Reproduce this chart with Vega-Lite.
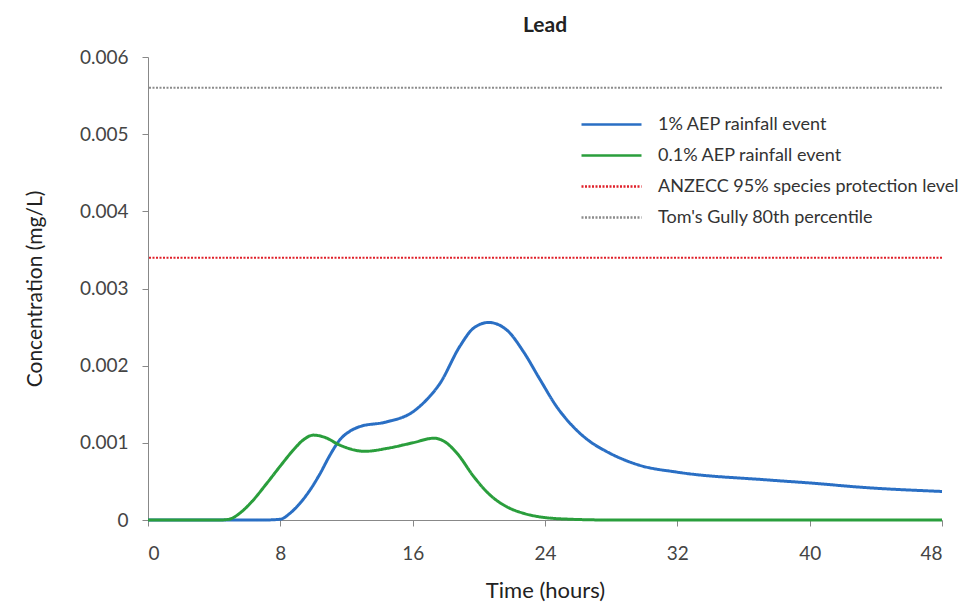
{
  "$schema": "https://vega.github.io/schema/vega-lite/v6.json",
  "autosize": "none",
  "width": 794,
  "height": 463,
  "padding": {"left": 148, "top": 57, "right": 18, "bottom": 87},
  "background": "white",
  "config": {"font": "Lato", "view": {"stroke": null}},
  "title": {"text": "Lead", "fontSize": 21, "fontWeight": "bold", "color": "#222", "offset": 12, "anchor": "middle"},
  "datasets": {
    "curves": [
      {"t": 0, "v": 0, "s": "1% AEP rainfall event"},
      {"t": 7, "v": 0, "s": "1% AEP rainfall event"},
      {"t": 8, "v": 0.00001, "s": "1% AEP rainfall event"},
      {"t": 8.6, "v": 0.00009, "s": "1% AEP rainfall event"},
      {"t": 9.2, "v": 0.00022, "s": "1% AEP rainfall event"},
      {"t": 9.8, "v": 0.00039, "s": "1% AEP rainfall event"},
      {"t": 10.4, "v": 0.0006, "s": "1% AEP rainfall event"},
      {"t": 11, "v": 0.00084, "s": "1% AEP rainfall event"},
      {"t": 11.6, "v": 0.00104, "s": "1% AEP rainfall event"},
      {"t": 12.2, "v": 0.00115, "s": "1% AEP rainfall event"},
      {"t": 12.8, "v": 0.00121, "s": "1% AEP rainfall event"},
      {"t": 14.4, "v": 0.00127, "s": "1% AEP rainfall event"},
      {"t": 16, "v": 0.0014, "s": "1% AEP rainfall event"},
      {"t": 16.85, "v": 0.00156, "s": "1% AEP rainfall event"},
      {"t": 17.65, "v": 0.00177, "s": "1% AEP rainfall event"},
      {"t": 18.85, "v": 0.00225, "s": "1% AEP rainfall event"},
      {"t": 19.7, "v": 0.00249, "s": "1% AEP rainfall event"},
      {"t": 20.6, "v": 0.00256, "s": "1% AEP rainfall event"},
      {"t": 21.7, "v": 0.00246, "s": "1% AEP rainfall event"},
      {"t": 22.7, "v": 0.00218, "s": "1% AEP rainfall event"},
      {"t": 23.7, "v": 0.00182, "s": "1% AEP rainfall event"},
      {"t": 24.7, "v": 0.00147, "s": "1% AEP rainfall event"},
      {"t": 25.7, "v": 0.00121, "s": "1% AEP rainfall event"},
      {"t": 26.7, "v": 0.00102, "s": "1% AEP rainfall event"},
      {"t": 27.7, "v": 0.00089, "s": "1% AEP rainfall event"},
      {"t": 29.7, "v": 0.00071, "s": "1% AEP rainfall event"},
      {"t": 32, "v": 0.00062, "s": "1% AEP rainfall event"},
      {"t": 37.4, "v": 0.00052, "s": "1% AEP rainfall event"},
      {"t": 40, "v": 0.00048, "s": "1% AEP rainfall event"},
      {"t": 43.4, "v": 0.00042, "s": "1% AEP rainfall event"},
      {"t": 48, "v": 0.00037, "s": "1% AEP rainfall event"},
      {"t": 0, "v": 0, "s": "0.1% AEP rainfall event"},
      {"t": 4.3, "v": 0, "s": "0.1% AEP rainfall event"},
      {"t": 4.9, "v": 0.00001, "s": "0.1% AEP rainfall event"},
      {"t": 5.5, "v": 0.00008, "s": "0.1% AEP rainfall event"},
      {"t": 6.2, "v": 0.00022, "s": "0.1% AEP rainfall event"},
      {"t": 7.2, "v": 0.00048, "s": "0.1% AEP rainfall event"},
      {"t": 8, "v": 0.0007, "s": "0.1% AEP rainfall event"},
      {"t": 8.8, "v": 0.00091, "s": "0.1% AEP rainfall event"},
      {"t": 9.4, "v": 0.00104, "s": "0.1% AEP rainfall event"},
      {"t": 10, "v": 0.0011, "s": "0.1% AEP rainfall event"},
      {"t": 10.7, "v": 0.00107, "s": "0.1% AEP rainfall event"},
      {"t": 11.6, "v": 0.00097, "s": "0.1% AEP rainfall event"},
      {"t": 13.1, "v": 0.00089, "s": "0.1% AEP rainfall event"},
      {"t": 14.5, "v": 0.00093, "s": "0.1% AEP rainfall event"},
      {"t": 16, "v": 0.001, "s": "0.1% AEP rainfall event"},
      {"t": 17.3, "v": 0.00106, "s": "0.1% AEP rainfall event"},
      {"t": 17.9, "v": 0.00102, "s": "0.1% AEP rainfall event"},
      {"t": 18.7, "v": 0.00086, "s": "0.1% AEP rainfall event"},
      {"t": 19.7, "v": 0.00056, "s": "0.1% AEP rainfall event"},
      {"t": 20.7, "v": 0.00032, "s": "0.1% AEP rainfall event"},
      {"t": 21.7, "v": 0.00017, "s": "0.1% AEP rainfall event"},
      {"t": 22.7, "v": 0.000087, "s": "0.1% AEP rainfall event"},
      {"t": 23.7, "v": 0.00004, "s": "0.1% AEP rainfall event"},
      {"t": 25.5, "v": 0.00001, "s": "0.1% AEP rainfall event"},
      {"t": 28, "v": 0, "s": "0.1% AEP rainfall event"},
      {"t": 48, "v": 0, "s": "0.1% AEP rainfall event"}
    ],
    "levels": [
      {"v": 0.0034, "s": "ANZECC 95% species protection level"},
      {"v": 0.0056, "s": "Tom's Gully 80th percentile"}
    ]
  },
  "encoding": {
    "color": {
      "field": "s", "type": "nominal",
      "scale": {
        "domain": ["1% AEP rainfall event", "0.1% AEP rainfall event", "ANZECC 95% species protection level", "Tom's Gully 80th percentile"],
        "range": ["#2a6fc4", "#2a9e3c", "#e0202a", "#8c8c8c"]
      },
      "legend": {
        "title": null, "orient": "none", "legendX": 447, "legendY": 51,
        "symbolType": "M-2,0H2", "symbolSize": 900, "symbolStrokeWidth": 2.5,
        "labelFontSize": 18, "labelColor": "#333", "labelOffset": 30, "rowPadding": 5,
        "labelLimit": 400
      }
    },
    "strokeDash": {
      "field": "s", "type": "nominal",
      "scale": {
        "domain": ["1% AEP rainfall event", "0.1% AEP rainfall event", "ANZECC 95% species protection level", "Tom's Gully 80th percentile"],
        "range": [[1, 0], [1, 0], [2, 1.5], [2, 1.5]]
      },
      "legend": null
    }
  },
  "layer": [
    {
      "data": {"name": "levels"},
      "mark": {"type": "rule", "strokeWidth": 2},
      "encoding": {
        "y": {"field": "v", "type": "quantitative"}
      }
    },
    {
      "data": {"name": "curves"},
      "mark": {"type": "line", "interpolate": "monotone", "strokeWidth": 3},
      "encoding": {
        "x": {
          "field": "t", "type": "quantitative", "title": "Time (hours)",
          "scale": {"domain": [0, 48], "nice": false},
          "axis": {"values": [0, 8, 16, 24, 32, 40, 48], "grid": false, "domainColor": "#888", "tickColor": "#888", "tickSize": 6,
                   "labelFontSize": 19, "labelColor": "#444", "labelPadding": 18, "titleFontSize": 22, "titleFontWeight": "normal", "titleColor": "#222", "titlePadding": 17}
        },
        "y": {
          "field": "v", "type": "quantitative", "title": "Concentration (mg/L)",
          "scale": {"domain": [0, 0.006], "nice": false},
          "axis": {"values": [0, 0.001, 0.002, 0.003, 0.004, 0.005, 0.006], "grid": false, "domainColor": "#888", "tickColor": "#888", "tickSize": 6,
                   "labelExpr": "datum.value == 0 ? '0' : format(datum.value, '.3f')",
                   "labelFontSize": 19, "labelColor": "#444", "labelPadding": 14, "titleFontSize": 21, "titleFontWeight": "normal", "titleColor": "#222", "titlePadding": 34}
        }
      }
    }
  ]
}
